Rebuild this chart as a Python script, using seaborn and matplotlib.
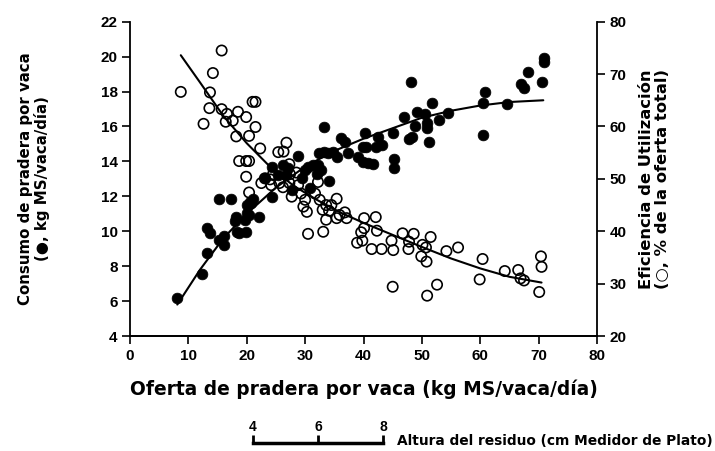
import matplotlib
matplotlib.use("Agg")
import matplotlib.pyplot as plt
import seaborn as sns
import pandas as pd

# consumo (filled circles, left axis)
oferta_consumo = [8.1, 12.3, 13.2, 13.2, 13.7, 15.2, 16.1, 16.1, 15.2, 17.3,
                  18.2, 18.0, 18.3, 18.7, 19.9, 19.7, 20.0, 20.4, 20.0, 20.8,
                  21.1, 20.5, 22.1, 23.1, 24.4, 24.4, 26.2, 26.8, 25.4, 27.1,
                  27.7, 28.8, 29.4, 30.0, 30.5, 31.4, 32.2, 32.0, 32.8, 34.1,
                  30.8, 32.4, 33.2, 33.9, 34.8, 35.4, 37.3, 39.1, 39.9, 40.8,
                  33.2, 36.2, 36.8, 40.3, 39.9, 40.5, 41.6, 42.5, 43.2, 42.2,
                  45.0, 45.2, 45.2, 47.8, 48.3, 48.2, 51.8, 49.1, 50.5, 47.0,
                  54.5, 53.0, 48.8, 50.9, 50.9, 51.2, 60.8, 60.4, 64.6, 60.5,
                  68.2, 66.9, 67.5, 70.5, 70.9, 70.9]
consumo = [6.16, 7.53, 8.74, 10.2, 9.88, 9.5, 9.73, 9.21, 11.85, 11.85,
           10.83, 10.6, 9.97, 9.92, 9.97, 10.64, 11.03, 10.93, 11.5, 11.6,
           11.83, 11.7, 10.83, 13.03, 11.98, 13.7, 13.8, 13.2, 13.2, 13.6,
           12.36, 14.3, 13.03, 13.5, 13.7, 13.8, 13.8, 13.3, 13.5, 12.9,
           12.46, 14.46, 14.55, 14.5, 14.55, 14.27, 14.46, 14.27, 13.98, 13.92,
           15.95, 15.36, 15.13, 15.6, 14.8, 14.8, 13.85, 15.38, 14.94, 14.81,
           15.64, 14.12, 13.6, 15.28, 15.41, 18.56, 17.36, 16.85, 16.7, 16.56,
           16.75, 16.37, 16.03, 16.18, 15.89, 15.1, 17.99, 17.33, 17.27, 15.51,
           19.1, 18.41, 18.22, 18.56, 19.94, 19.7]

# eficiencia (open circles, right axis)
oferta_eficiencia = [8.7, 12.6, 13.6, 13.7, 14.2, 15.7, 15.7, 16.6, 16.4, 17.6,
                     18.5, 18.2, 18.7, 19.9, 19.9, 19.9, 20.4, 20.4, 20.4, 21.0,
                     21.5, 21.5, 22.3, 22.5, 23.1, 24.0, 24.5, 24.2, 25.4, 26.3,
                     26.8, 25.6, 26.2, 27.3, 27.4, 28.5, 27.3, 27.7, 28.8, 29.3,
                     30.0, 29.7, 30.3, 30.5, 31.7, 32.2, 32.5, 33.0, 33.1, 33.6,
                     33.6, 34.1, 34.5, 35.4, 35.4, 35.9, 36.8, 37.1, 38.9, 39.6,
                     39.8, 40.1, 40.1, 41.4, 42.1, 42.3, 43.1, 44.8, 45.0, 45.1,
                     46.7, 47.7, 47.8, 48.6, 49.9, 50.1, 50.7, 50.8, 50.9, 51.5,
                     52.6, 54.2, 56.2, 59.9, 60.4, 64.2, 66.5, 66.9, 67.5, 70.1,
                     70.4, 70.5]
eficiencia = [66.6, 60.5, 63.5, 66.5, 70.2, 74.5, 63.3, 62.4, 60.9, 61.1,
              62.8, 58.1, 53.4, 61.8, 53.4, 50.4, 58.2, 53.4, 47.4, 64.7,
              64.7, 59.9, 55.8, 49.2, 50.1, 49.9, 50.9, 48.8, 55.1, 55.2,
              56.9, 49.2, 48.4, 52.8, 50.9, 51.2, 49.2, 46.6, 48.8, 47.2,
              46.0, 44.7, 43.7, 39.5, 47.2, 49.4, 46.0, 44.1, 39.9, 45.0,
              42.2, 43.9, 45.0, 46.2, 42.5, 43.1, 43.6, 42.5, 37.8, 39.8,
              38.2, 42.5, 40.6, 36.6, 42.7, 40.1, 36.6, 38.2, 29.4, 36.4,
              39.6, 36.6, 38.0, 39.5, 35.2, 37.4, 36.9, 34.2, 27.7, 38.9,
              29.8, 36.2, 36.9, 30.8, 34.7, 32.4, 32.6, 31.0, 30.6, 28.4,
              35.2, 33.2]

# fitted curves
curva_consumo_x = [8.1, 12, 16, 20, 25, 30, 35, 40, 45, 50, 55, 60, 65, 70.8]
curva_consumo_y = [5.8, 7.8, 9.6, 11.0, 12.5, 13.7, 14.6, 15.3, 15.9, 16.5, 16.9, 17.2, 17.4, 17.5]
curva_efic_x = [8.7, 12, 16, 20, 24, 28, 32, 36, 40, 45, 50, 55, 60, 65, 70.5]
curva_efic_y = [73.6, 68.4, 62.0, 56.8, 52.3, 48.7, 46.0, 43.6, 41.6, 39.3, 37.0, 34.8, 32.9, 31.3, 30.2]

x_ticks = list(range(0, 90, 10))
left_ticks = list(range(4, 24, 2))
right_ticks = list(range(20, 90, 10))
altura_ticks = [4, 6, 8]

df_c = pd.DataFrame({'oferta': oferta_consumo, 'consumo': consumo})
df_e = pd.DataFrame({'oferta': oferta_eficiencia, 'eficiencia': eficiencia})

sns.set_style("ticks")
plt.rcParams['font.family'] = ['DejaVu Sans']
plt.rcParams.update({'text.color': 'black', 'axes.labelcolor': 'black',
                     'xtick.color': 'black', 'ytick.color': 'black',
                     'axes.edgecolor': 'black'})

fig = plt.figure(figsize=(7.15, 4.51), dpi=100)
ax1 = fig.add_axes([130 / 715, 1 - 336 / 451, 467 / 715, 314.3 / 451])
ax2 = ax1.twinx()

sns.scatterplot(data=df_c, x='oferta', y='consumo', ax=ax1, color='black',
                s=60, edgecolor='black', linewidth=0.5, zorder=3)
sns.lineplot(x=curva_consumo_x, y=curva_consumo_y, ax=ax1, color='black', linewidth=1.5)

sns.scatterplot(data=df_e, x='oferta', y='eficiencia', ax=ax2, facecolor='none',
                s=55, edgecolor='black', linewidth=1.2, zorder=3)
sns.lineplot(x=curva_efic_x, y=curva_efic_y, ax=ax2, color='black', linewidth=1.5)

tick_font = dict(family='Liberation Sans', weight='bold', size=11)

ax1.set_xlim(0, 80)
ax1.set_ylim(4, 22)
ax2.set_ylim(20, 80)
ax1.set_xticks(x_ticks)
ax1.set_yticks(left_ticks)
ax2.set_yticks(right_ticks)
ax1.set_xticklabels([str(v) for v in x_ticks], **tick_font)
ax1.set_yticklabels([str(v) for v in left_ticks], **tick_font)
ax2.set_yticklabels([str(v) for v in right_ticks], **tick_font)

for ax in (ax1, ax2):
    ax.spines['top'].set_visible(False)
    for sp in ax.spines.values():
        sp.set_linewidth(1.3)
    ax.tick_params(length=6, width=1.2, pad=3)
ax1.spines['right'].set_visible(False)
ax2.spines['left'].set_visible(False)

ax1.set_xlabel('Oferta de pradera por vaca (kg MS/vaca/día)', labelpad=12,
               family='DejaVu Sans', weight='bold', size=13.4)
ax1.set_ylabel('Consumo de pradera por vaca\n(●, kg MS/vaca/día)', labelpad=36,
               linespacing=1.1, family='DejaVu Sans', weight='bold', size=10.8)
ax2.set_ylabel('Eficiencia de Utilización\n(○, % de la oferta total)', labelpad=9,
               linespacing=1.1, family='DejaVu Sans', weight='bold', size=11.8)

# residual height scale under the x axis
ax3 = fig.add_axes([253 / 715, 1 - 443 / 451, 130 / 715, 0.0005])
ax3.set_facecolor('none')
ax3.set_xlim(4, 8)
ax3.set_xticks(altura_ticks)
ax3.set_xticklabels([str(v) for v in altura_ticks], **dict(tick_font, size=10))
ax3.set_yticks([])
for side in ('left', 'right', 'top'):
    ax3.spines[side].set_visible(False)
ax3.spines['bottom'].set_linewidth(2.5)
ax3.tick_params(axis='x', direction='in', length=6, width=2, bottom=True, top=False,
                labelbottom=False, labeltop=True, pad=6)
fig.text(397 / 715, 1 - 441 / 451, 'Altura del residuo (cm Medidor de Plato)',
         va='center', ha='left', family='DejaVu Sans', weight='bold', size=9.9)

fig.savefig('out.png', dpi=100)
